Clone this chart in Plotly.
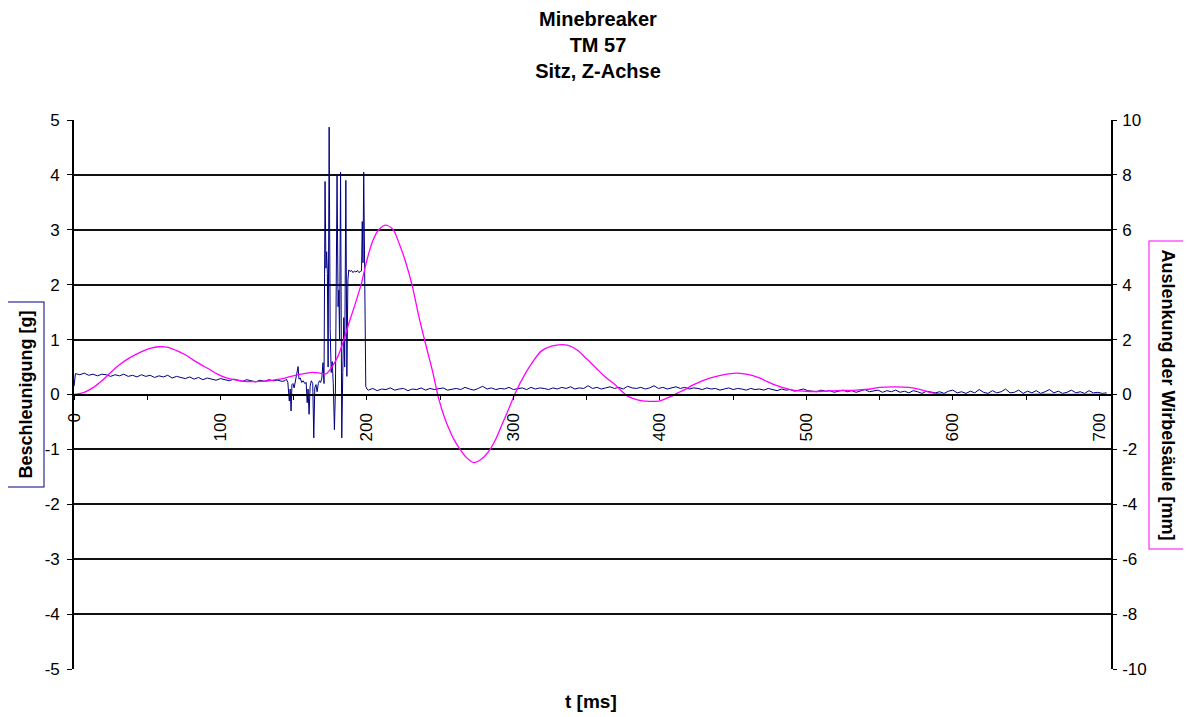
import plotly.graph_objects as go

# ---------------- data ----------------
# Acceleration (left axis, g) - quiet part before the impact
blue_pre_t = [0] + list(range(1, 144, 3))
blue_pre_g = [0.15,
              0.38, 0.36, 0.39, 0.35, 0.37, 0.34, 0.37, 0.36, 0.33, 0.36,
              0.34, 0.37, 0.33, 0.35, 0.32, 0.36, 0.33, 0.35, 0.31, 0.34,
              0.32, 0.35, 0.30, 0.33, 0.31, 0.29, 0.32, 0.28, 0.31, 0.27,
              0.30, 0.28, 0.26, 0.29, 0.27, 0.25, 0.28, 0.26, 0.24, 0.27,
              0.25, 0.23, 0.26, 0.24, 0.27, 0.25, 0.26, 0.24]

# impact region
blue_imp_t = [144, 145, 146, 147, 147.6, 148.2, 148.8, 149.5, 150.3, 151, 152, 153, 153.6,
              154.5, 155.5, 156.5, 157.5, 158.5, 159.2, 159.8, 160.5, 161.2, 162, 163,
              163.7, 164.4, 165.2, 166, 166.8, 167.6, 168.4, 169.2, 170, 170.7, 171.4,
              172, 172.5, 173, 173.5, 174.2, 174.9, 175.6, 176.3, 177, 177.8, 178.5,
              179.6, 180.3, 180.8, 181.3, 182, 182.8, 183.5, 184.2, 184.8, 185.6, 186.3,
              187, 187.6, 188.5, 189.5, 190.5, 191.5, 192.5, 193.5, 194.5, 195.5, 196.3,
              196.8, 197.3, 197.8, 198.5, 199.2, 200]
blue_imp_g = [0.25, 0.28, 0.22, -0.12, 0.10, -0.30, 0.18, 0.20, 0.12, 0.22, 0.30, 0.51, 0.28,
              0.30, 0.22, 0.25, 0.20, 0.22, -0.15, 0.10, -0.36, 0.15, 0.25, 0.20,
              -0.79, 0.12, 0.18, 0.05, 0.20, 0.25, 0.22, 0.30, 0.58, 0.20, 3.88,
              2.30, 2.60, 2.20, 0.50, 4.87, 1.20, 0.40, 0.60, 0.20, -0.64, 0.10,
              4.00, 1.60, 1.90, 1.00, 4.05, -0.79, 0.40, 1.40, 0.50, 3.90, 0.33,
              2.09, 2.27, 2.24, 2.26, 2.22, 2.25, 2.23, 2.26, 2.22, 2.24, 2.25,
              3.15, 2.40, 4.05, 2.60, 0.15, 0.10]

# decay part after the impact
blue_post_t = list(range(201, 706, 3))
blue_post_g = [
    0.08, 0.11, 0.07, 0.10, 0.09, 0.12, 0.08, 0.10, 0.11, 0.07, 0.10, 0.09, 0.12, 0.08, 0.11, 0.09, 0.10,
    0.12, 0.08, 0.10, 0.11, 0.09, 0.13, 0.10, 0.08, 0.11, 0.15, 0.10, 0.12, 0.09, 0.11, 0.10, 0.13, 0.09,
    0.11, 0.12, 0.09, 0.13, 0.10, 0.12, 0.11, 0.09, 0.12, 0.10, 0.13, 0.11, 0.14, 0.10, 0.12, 0.11, 0.16,
    0.11, 0.13, 0.10, 0.12, 0.14, 0.11, 0.13, 0.10, 0.15, 0.12, 0.11, 0.13, 0.10, 0.12, 0.16, 0.11, 0.13,
    0.10, 0.12, 0.14, 0.11, 0.13, 0.10, 0.12, 0.11, 0.09, 0.12, 0.10, 0.11, 0.08, 0.10, 0.12, 0.09, 0.11,
    0.10, 0.08, 0.11, 0.09, 0.10, 0.08, 0.11, 0.09, 0.07, 0.10, 0.08, 0.09, 0.06, 0.08, 0.10, 0.07, 0.06,
    0.05, 0.08, 0.06, 0.07, 0.04, 0.06, 0.08, 0.05, 0.07, 0.04, 0.06, 0.09, 0.05, 0.06, 0.08, 0.04, 0.07,
    0.05, 0.08, 0.04, 0.06, 0.03, 0.07, 0.05, 0.02, 0.06, 0.04, 0.03, 0.05, 0.02, 0.06, 0.08, 0.03, 0.05,
    0.02, 0.06, 0.03, 0.09, 0.04, 0.02, 0.07, 0.03, 0.05, 0.10, 0.03, 0.04, 0.08, 0.02, 0.06, 0.03, 0.07,
    0.02, 0.05, 0.09, 0.03, 0.06, 0.02, 0.04, 0.08, 0.03, 0.05, 0.02, 0.07, 0.03, 0.04, 0.02, 0.03]

blue_t = blue_pre_t + blue_imp_t + blue_post_t
blue_g = blue_pre_g + blue_imp_g + blue_post_g

# Spine deflection (right axis, mm)
mag_t = [0, 7, 13, 19, 25, 31, 36, 42, 47, 52, 58, 64, 70, 76, 81, 87, 93, 98, 104, 110,
         115, 121, 127, 133, 138, 144, 149, 155, 161, 167, 172, 176, 180, 184, 188, 192,
         196, 200, 204, 208, 213, 218, 222, 226, 231, 235, 240, 245, 249, 253, 256, 259,
         263, 268, 273, 278, 283, 288, 292, 297, 301, 308, 314, 319, 326, 333, 338, 344,
         349, 353, 358, 362, 366, 370, 374, 378, 383, 388, 393, 399, 404, 408, 412, 417,
         422, 428, 434, 440, 447, 453, 460, 467, 472, 478, 484, 489, 495, 502, 512, 522,
         534, 544, 550, 560, 570, 578, 586, 596, 610, 625, 640, 660, 680, 705]
mag_mm = [0.0, 0.08, 0.25, 0.5, 0.8, 1.08, 1.27, 1.45, 1.58, 1.68, 1.74, 1.72, 1.6, 1.45, 1.27,
          1.08, 0.9, 0.74, 0.61, 0.53, 0.49, 0.47, 0.48, 0.5, 0.54, 0.6, 0.67, 0.74, 0.8, 0.79,
          0.75, 1.0, 1.37, 1.95, 2.65, 3.3, 4.0, 4.9, 5.6, 6.0, 6.17, 6.0, 5.5, 4.9, 3.95,
          2.95, 1.85, 0.8, -0.15, -0.85, -1.25, -1.6, -1.95, -2.3, -2.48, -2.36, -2.08, -1.62,
          -1.12, -0.5, 0.02, 0.75, 1.25, 1.58, 1.76, 1.82, 1.78, 1.6, 1.35, 1.15, 0.88, 0.67,
          0.5, 0.33, 0.12, -0.06, -0.17, -0.23, -0.25, -0.24, -0.15, -0.06, 0.05, 0.18, 0.33,
          0.48, 0.6, 0.68, 0.75, 0.78, 0.73, 0.62, 0.5, 0.36, 0.25, 0.18, 0.13, 0.11, 0.12,
          0.14, 0.16, 0.2, 0.26, 0.28, 0.26, 0.18, 0.06, 0.0, -0.02, 0.0, -0.02, 0.01, 0.0, 0.01]

x_ticks = [0, 100, 200, 300, 400, 500, 600, 700]
left_ticks = [5, 4, 3, 2, 1, 0, -1, -2, -3, -4, -5]
right_ticks = [10, 8, 6, 4, 2, 0, -2, -4, -6, -8, -10]

# ---------------- figure ----------------
FONT = "Liberation Sans, Arial, sans-serif"
NAVY = "#000080"
MAG = "#FF00FF"

# the page body has an 8px margin, so the figure is sized to fit in the window
W, H = 1183, 709
ML, MT, PW, PH = 66, 112, 1037, 549

fig = go.Figure()
fig.add_trace(go.Scatter(x=blue_t, y=blue_g, mode="lines",
                         line=dict(color=NAVY, width=1), yaxis="y", showlegend=False))
fig.add_trace(go.Scatter(x=mag_t, y=mag_mm, mode="lines",
                         line=dict(color=MAG, width=1.3, shape="spline", smoothing=0.8),
                         yaxis="y2", showlegend=False))

tickfont = dict(family=FONT, size=17, color="black")
fig.update_layout(
    width=W, height=H,
    margin=dict(l=ML, r=W - ML - PW, t=MT, b=H - MT - PH, autoexpand=False),
    paper_bgcolor="white", plot_bgcolor="white",
    font=dict(family=FONT, color="black", size=16),
    title=dict(text="<b>Minebreaker<br>TM 57<br>Sitz, Z-Achse</b>",
               font=dict(family=FONT, size=20, color="black"),
               x=0.5053, xref="paper", xanchor="center",
               y=1 - 18 / H, yref="container", yanchor="middle"),
    xaxis=dict(range=[0, 708], anchor="free", position=0.5,
               tickmode="array", tickvals=x_ticks, ticktext=[str(v) for v in x_ticks],
               tickangle=-90, ticks="outside", ticklen=5, tickcolor="black", tickwidth=1.3,
               ticklabelstandoff=6,
               minor=dict(tick0=0, dtick=50, ticks="outside", ticklen=5, tickcolor="black",
                          tickwidth=1.3, showgrid=False),
               showline=True, linecolor="black", linewidth=1.6,
               showgrid=False, zeroline=False,
               tickfont=tickfont),
    yaxis=dict(range=[-5, 5], tickmode="array", tickvals=left_ticks,
               ticktext=[str(v) for v in left_ticks],
               ticks="outside", ticklen=5, tickcolor="black", tickwidth=1.3,
               ticklabelstandoff=4,
               showline=True, linecolor="black", linewidth=1.6,
               showgrid=True, gridcolor="#111111", gridwidth=1.5, zeroline=False,
               tickfont=tickfont),
    yaxis2=dict(range=[-10, 10], overlaying="y", side="right", anchor="x",
                tickmode="array", tickvals=right_ticks,
                ticktext=[str(v) for v in right_ticks],
                ticks="outside", ticklen=4, tickcolor="black", tickwidth=1.3,
                ticklabelstandoff=2,
                showline=True, linecolor="black", linewidth=1.6,
                showgrid=False, zeroline=False,
                tickfont=tickfont),
)

fig.add_annotation(text="<b>Beschleunigung [g]</b>", textangle=-90,
                   xref="paper", yref="paper", x=(17 - ML) / PW, y=0.5,
                   xanchor="center", yanchor="middle", showarrow=False,
                   font=dict(family=FONT, size=18, color="black"),
                   bordercolor=NAVY, borderwidth=1, borderpad=8, bgcolor="white")
fig.add_annotation(text="<b>Auslenkung der Wirbelsäule [mm]</b>", textangle=90,
                   xref="paper", yref="paper", x=(1160 - ML) / PW, y=0.5,
                   xanchor="center", yanchor="middle", showarrow=False,
                   font=dict(family=FONT, size=18, color="black"),
                   bordercolor=MAG, borderwidth=1, borderpad=8, bgcolor="white")
fig.add_annotation(text="<b>t [ms]</b>",
                   xref="paper", yref="paper", x=(583 - ML) / PW, y=-(693 - MT - PH) / PH,
                   xanchor="center", yanchor="middle", showarrow=False,
                   font=dict(family=FONT, size=19, color="black"))

fig.write_html("out.html")
